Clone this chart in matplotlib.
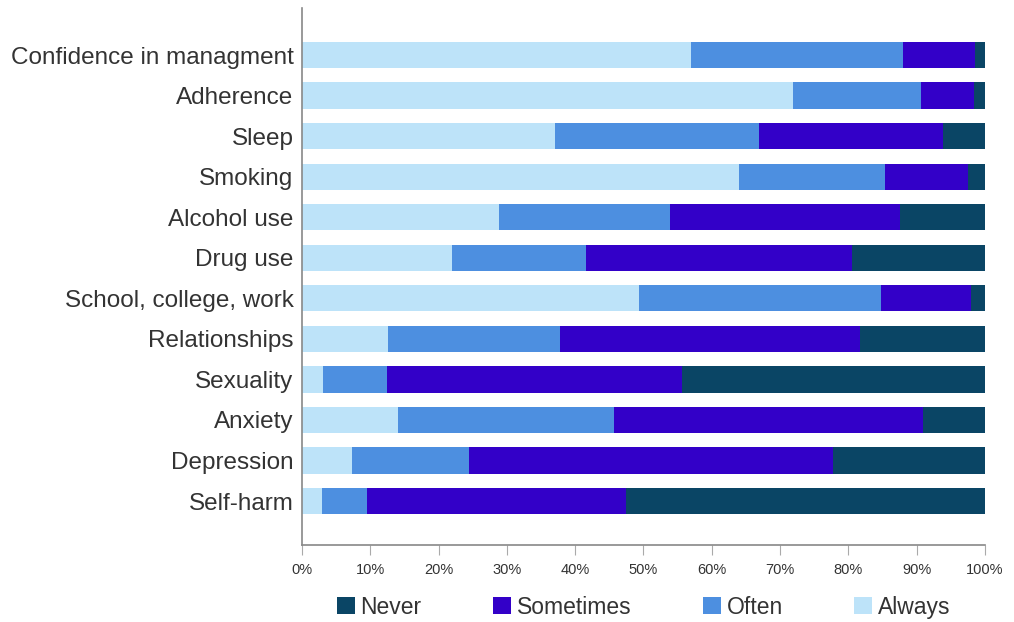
import matplotlib.pyplot as plt
import numpy as np

categories = ["Confidence in managment", "Adherence", "Sleep", "Smoking", "Alcohol use",
              "Drug use", "School, college, work", "Relationships", "Sexuality",
              "Anxiety", "Depression", "Self-harm"]

# percent of responses
always = [56.9, 71.9, 37.1, 64.0, 28.8, 21.9, 49.3, 12.6, 3.1, 14.0, 7.3, 2.9]
often = [31.1, 18.7, 29.8, 21.4, 25.1, 19.7, 35.5, 25.2, 9.4, 31.7, 17.1, 6.6]
sometimes = [10.6, 7.8, 27.0, 12.1, 33.7, 38.9, 13.1, 43.9, 43.2, 45.2, 53.4, 37.9]
never = [1.4, 1.6, 6.1, 2.5, 12.4, 19.5, 2.1, 18.3, 44.3, 9.1, 22.2, 52.6]

colors = {"Never": "#0a4565", "Sometimes": "#3300c8", "Often": "#4d8fe0", "Always": "#bde3f9"}

plt.rcParams['font.family'] = ['Liberation Sans', 'DejaVu Sans']

fig = plt.figure(figsize=(10.14, 6.22), dpi=100)
ax = fig.add_axes([0.2978, 0.1238, 0.6736, 0.8633])

y = np.arange(len(categories))[::-1]
h = 0.65
left = np.zeros(len(categories))
# stack left to right: Always, Often, Sometimes, Never
for name, vals in [("Always", always), ("Often", often), ("Sometimes", sometimes), ("Never", never)]:
    ax.barh(y, vals, left=left, height=h, color=colors[name], label=name, linewidth=0)
    left += np.array(vals)

ax.set_xlim(0, 100)
ax.set_ylim(-1.085, len(categories) - 1 + 1.16)
ax.set_yticks(y)
ax.set_yticklabels(categories, fontsize=17.5, color='#333333')
ax.tick_params(axis='y', length=0, pad=6)
ax.set_xticks(np.arange(0, 101, 10))
ax.set_xticklabels([f"{v}%" for v in range(0, 101, 10)], fontsize=10.5, color='#333333')
ax.tick_params(axis='x', length=7, color='#aaaaaa', pad=6)

for s in ['top', 'right']:
    ax.spines[s].set_visible(False)
for s in ['left', 'bottom']:
    ax.spines[s].set_color('#888888')
    ax.spines[s].set_linewidth(1.2)

handles, labels = ax.get_legend_handles_labels()
order = [3, 2, 1, 0]
ax.legend([handles[i] for i in order], [labels[i] for i in order], ncol=4,
          loc='center', bbox_to_anchor=(0.5, -0.1155), frameon=False,
          fontsize=16.5, handlelength=0.8, handleheight=0.8, handletextpad=0.25,
          columnspacing=3.1, labelcolor='#333333')

fig.savefig('out.png', dpi=100)
